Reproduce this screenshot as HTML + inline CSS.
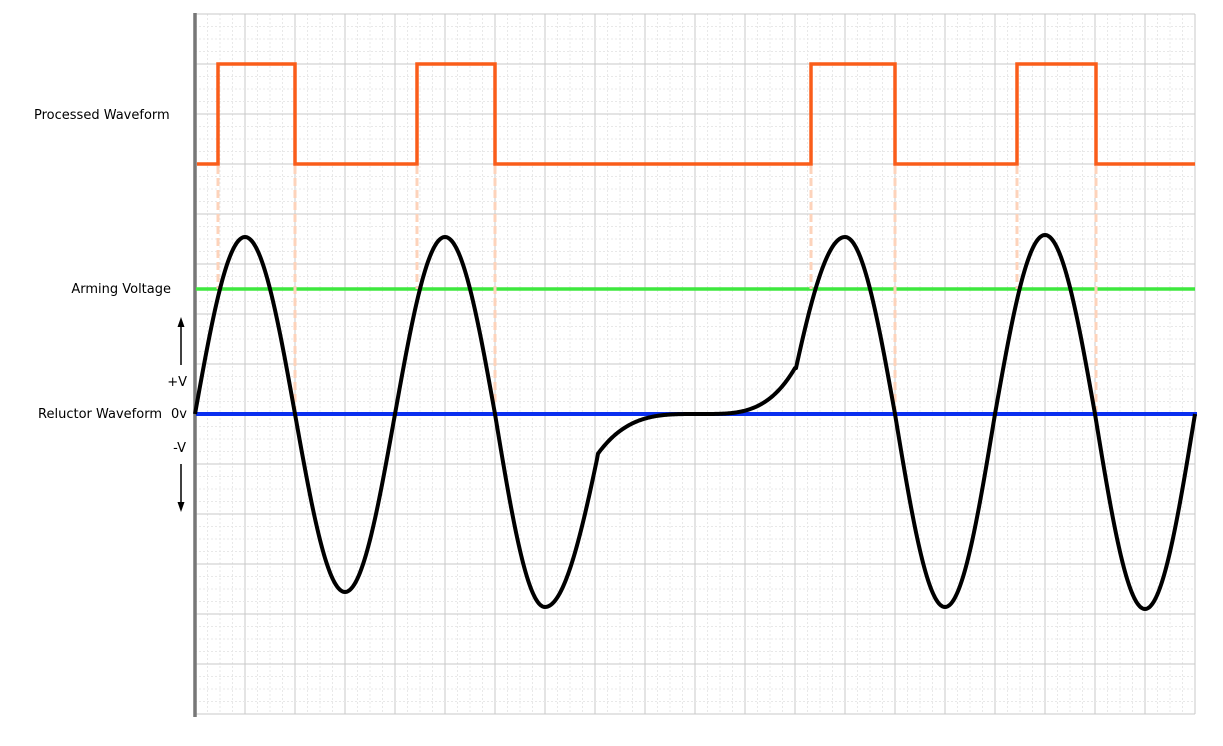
<!DOCTYPE html>
<html><head><meta charset="utf-8"><style>
html,body{margin:0;padding:0;background:#fff}
svg{display:block}
text{font-family:"DejaVu Sans","Liberation Sans",sans-serif;font-size:13px;fill:#000}
</style></head><body>
<svg id="s" width="1223" height="746" viewBox="0 0 1223 746" xmlns="http://www.w3.org/2000/svg">
<g id="grid"></g>
<line x1="195" y1="13" x2="195" y2="717" stroke="#777" stroke-width="3.5"/>
<line x1="196" y1="289" x2="1195" y2="289" stroke="#3ee83e" stroke-width="3.5"/>
<g id="dash" stroke="#fdd3bb" stroke-width="3" stroke-dasharray="8,4"></g>
<polyline fill="none" stroke="#fa5d1a" stroke-width="3.5" points="197,164 218,164 218,64 295,64 295,164 417,164 417,64 495,64 495,164 811,164 811,64 895,64 895,164 1017,164 1017,64 1096,64 1096,164 1195,164"/>
<line x1="196" y1="414" x2="1197" y2="414" stroke="#0a2ff0" stroke-width="4"/>
<path id="wave" fill="none" stroke="#000" stroke-width="4" stroke-linejoin="round"/>
<text x="34" y="119">Processed Waveform</text>
<text x="171" y="293" text-anchor="end">Arming Voltage</text>
<text x="162" y="418" text-anchor="end">Reluctor Waveform</text>
<text x="187" y="418" text-anchor="end">0v</text>
<text x="187" y="386" text-anchor="end">+V</text>
<text x="186" y="452" text-anchor="end">-V</text>
<line x1="181" y1="365" x2="181" y2="324" stroke="#000" stroke-width="1.5"/>
<polygon points="181,317 177.5,327 184.5,327" fill="#000"/>
<line x1="181" y1="464" x2="181" y2="505" stroke="#000" stroke-width="1.5"/>
<polygon points="181,512 177.5,502 184.5,502" fill="#000"/>
</svg>
<script>
var g=document.getElementById('grid'),h='';
for(var x=195;x<=1195.1;x+=12.5){var maj=Math.abs((x-195)%50)<0.1;
h+='<line x1="'+x+'" y1="14" x2="'+x+'" y2="714" stroke="'+(maj?'#c8c8c8':'#e8e8e8')+'" stroke-width="1"'+(maj?'':' stroke-dasharray="2,2"')+'/>';}
for(var y=14;y<=714.1;y+=12.5){var maj=Math.abs((y-14)%50)<0.1;
h+='<line x1="195" y1="'+y+'" x2="1195" y2="'+y+'" stroke="'+(maj?'#c8c8c8':'#e8e8e8')+'" stroke-width="1"'+(maj?'':' stroke-dasharray="2,2"')+'/>';}
g.innerHTML=h;
var d=document.getElementById('dash'),dh='';
[[218,289],[295,414],[417,289],[495,405],[811,289],[895,414],[1017,289],[1096,414]].forEach(function(p){
dh+='<line x1="'+p[0]+'" y1="166" x2="'+p[0]+'" y2="'+p[1]+'"/>';});
d.innerHTML=dh;
function f(x){
 var P=Math.PI;
 if(x<=545){var t=(x-195)/200*2*P;var s=Math.sin(t);
  var A=s>=0?177:(x<395?178:193);return 414-A*s;}
 if(x<=597){return 414+193*Math.cos(0.85*P/2*(x-545)/52);}
 if(x<=700){return 414+41*Math.pow((700-x)/103,3.5);}
 if(x<=795){return 414-46*Math.pow((x-700)/95,3.5);}
 if(x<=845){return 414-177*Math.cos(0.85*P/2*(845-x)/50);}
 var t=(x-845)/200*2*P+P/2;var s=Math.sin(t);
 var A;if(x<895)A=177;else if(x<995)A=193;else if(x<1095)A=179;else A=195;
 return 414-A*s;}
var pd='';for(var x=195;x<=1195;x+=1){pd+=(x==195?'M':'L')+x+','+f(x).toFixed(2)+' ';}
document.getElementById('wave').setAttribute('d',pd);
</script>
</body></html>
